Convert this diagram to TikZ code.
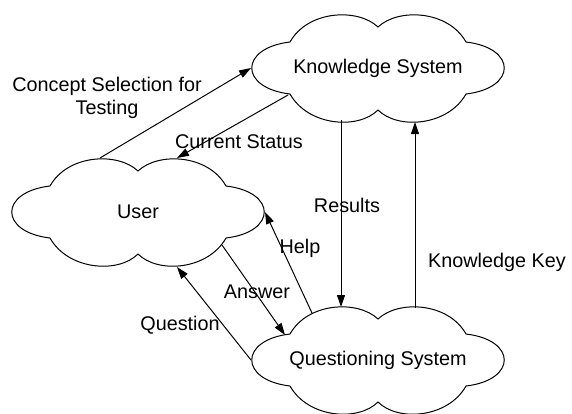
\documentclass[tikz,border=0pt]{standalone}
\usepackage{fontspec}
\setmainfont{Liberation Sans}
\usetikzlibrary{arrows.meta,calc}

\begin{document}
\begin{tikzpicture}[x=0.5pt,y=-0.5pt,line width=0.5pt,
  font=\fontsize{9.9}{11.5}\selectfont,>={Triangle[length=6pt,width=4pt]}]

\tikzstyle{system}=[minimum width=126.5pt,minimum height=53.5pt,inner sep=0pt]
\tikzstyle{flow}=[->]
\tikzstyle{lbl}=[inner sep=0pt,align=center]

\useasboundingbox (0,0) rectangle (572,413);

\node[system](K) at (378,68){Knowledge System};
\node[system](U) at (138,212){User};
\node[system](Q) at (378,360){Questioning System};

% cloud outlines
\foreach \n in {K,U,Q}
  \draw[shift={(\n.center)}](-88,-26)
    .. controls (-70,-58) and (-20,-60) .. (0,-41)
    .. controls (20,-60) and (70,-58) .. (88,-26)
    .. controls (139,-20) and (139,20) .. (88,26)
    .. controls (70,58) and (20,62) .. (0,42)
    .. controls (-20,62) and (-70,58) .. (-88,26)
    .. controls (-139,20) and (-139,-20) .. cycle;

\draw[flow]($(U)+(-38,-54)$)--(K.west);
\draw[flow]($(K)+(-90,27)$)--($(U)+(39,-54)$);
\draw[flow](Q.west)--($(U)+(39,55)$);
\draw[flow]($(U)+(84,33)$)--($(Q)+(-93,-25)$);
\draw[flow]($(Q)+(-66,-47)$)--(U.east);
\draw[flow]($(K)+(-37,52)$)--($(Q)+(-37,-53)$);
\draw[flow]($(Q)+(37,-52)$)--($(K)+(37,54)$);

\node[lbl](concept) at (107,98){Concept Selection for\\Testing};
\node[lbl](status) at (239,142){Current Status};
\node[lbl](results) at (347,205){Results};
\node[lbl](key) at (497,262){Knowledge Key};
\node[lbl](help) at (300,248){Help};
\node[lbl](answer) at (257,292){Answer};
\node[lbl](question) at (180,325){Question};

\end{tikzpicture}
\end{document}
